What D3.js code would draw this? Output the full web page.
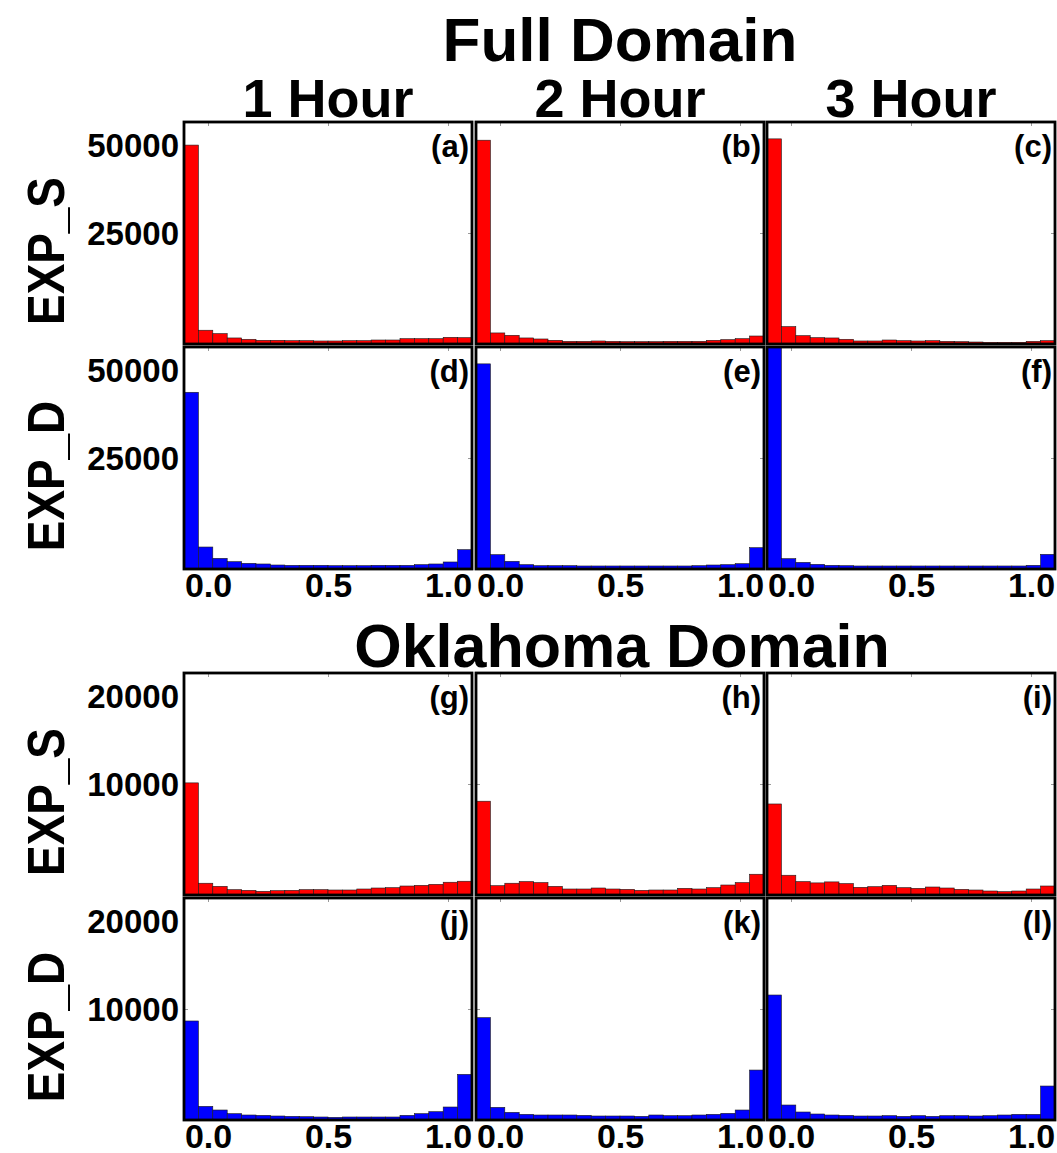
<!DOCTYPE html>
<html>
<head>
<meta charset="utf-8">
<script src="https://cdn.jsdelivr.net/npm/d3@7"></script>
<style>
  body { margin: 0; background: #fff; }
  svg text { font-family: "Liberation Sans", Arial, Helvetica, sans-serif; font-weight: bold; fill: #000; }
</style>
</head>
<body>
<svg id="chart" width="1057" height="1153"></svg>
<script>
// ---- labels ----
const hourLabels = ["1 Hour", "2 Hour", "3 Hour"];
const domainTitles = ["Full Domain", "Oklahoma Domain"];
const experimentLabels = ["EXP_S", "EXP_D", "EXP_S", "EXP_D"];
const panelLetters = [
  ["(a)", "(b)", "(c)"],
  ["(d)", "(e)", "(f)"],
  ["(g)", "(h)", "(i)"],
  ["(j)", "(k)", "(l)"]
];

// ---- histogram binning (20 equal bins) ----
const binEdgeStart = -0.1;
const binEdgeEnd = 1.1;
const xTickValues = [0.0, 0.5, 1.0];

// ---- y axes ----
const fullYMax = 50000;
const fullYTicks = [25000, 50000];
const okYMax = 20000;
const okYTicks = [10000, 20000];

// ---- counts per bin: Full Domain ----
const countsA = [44800, 3100, 2340, 1360, 1060, 830, 830, 750, 750, 680, 680, 750, 750, 900, 900, 1200, 1200, 1200, 1500, 1430];
const countsB = [45900, 2490, 1960, 1360, 1130, 830, 600, 600, 680, 600, 530, 530, 530, 600, 600, 600, 830, 980, 1200, 1800];
const countsC = [46200, 3920, 1880, 1430, 1360, 1060, 680, 680, 900, 750, 680, 750, 600, 530, 450, 380, 380, 380, 600, 750];
const countsD = [39800, 4950, 2400, 1650, 1280, 1130, 900, 830, 830, 830, 750, 750, 750, 830, 830, 830, 980, 1130, 1580, 4350];
const countsE = [46200, 3230, 1730, 980, 750, 750, 750, 680, 680, 680, 680, 680, 680, 680, 680, 750, 900, 980, 1200, 4800];
const countsF = [52000, 2330, 1500, 1050, 830, 750, 680, 680, 680, 680, 680, 680, 680, 680, 680, 680, 680, 680, 830, 3300];

// ---- counts per bin: Oklahoma Domain ----
const countsG = [10100, 1060, 780, 480, 420, 330, 390, 420, 480, 480, 450, 450, 540, 630, 660, 810, 870, 960, 1150, 1240];
const countsH = [8450, 840, 1060, 1210, 1120, 780, 540, 540, 630, 540, 510, 420, 450, 450, 600, 540, 660, 900, 1120, 1870];
const countsI = [8200, 1780, 1210, 1090, 1180, 1030, 690, 750, 870, 660, 600, 720, 630, 510, 450, 360, 300, 360, 540, 810];
const countsJ = [8920, 1230, 900, 570, 450, 420, 360, 330, 300, 270, 240, 270, 270, 270, 270, 420, 570, 750, 1170, 4110];
const countsK = [9220, 1140, 690, 510, 450, 450, 450, 420, 360, 360, 360, 330, 450, 390, 390, 450, 510, 600, 900, 4500];
const countsL = [11260, 1350, 720, 540, 450, 420, 360, 360, 390, 330, 390, 330, 390, 390, 360, 390, 450, 510, 510, 3060];

// ---- layout ----
const colLeft = [184, 476, 767];
const rowTop = [122, 347, 673, 898];
const panelW = 288;
const panelH = 222;

const svg = d3.select("#chart");

const rows = [
  { counts: [countsA, countsB, countsC], color: "#ff0000", yMax: fullYMax, yTicks: fullYTicks, xLabels: false },
  { counts: [countsD, countsE, countsF], color: "#0000ff", yMax: fullYMax, yTicks: fullYTicks, xLabels: true },
  { counts: [countsG, countsH, countsI], color: "#ff0000", yMax: okYMax, yTicks: okYTicks, xLabels: false },
  { counts: [countsJ, countsK, countsL], color: "#0000ff", yMax: okYMax, yTicks: okYTicks, xLabels: true }
];

const x = d3.scaleLinear().domain([binEdgeStart, binEdgeEnd]).range([0, panelW]);

const defs = svg.append("defs");
defs.append("clipPath").attr("id", "panel-clip")
  .append("rect").attr("x", 0).attr("y", 0).attr("width", panelW).attr("height", panelH);

rows.forEach((row, r) => {
  const y = d3.scaleLinear().domain([0, row.yMax]).range([panelH, 0]);

  row.counts.forEach((counts, c) => {
    const g = svg.append("g").attr("transform", `translate(${colLeft[c]},${rowTop[r]})`);
    const nBins = counts.length;
    const binW = (binEdgeEnd - binEdgeStart) / nBins;

    // faint inward tick marks on the frame
    const tickCol = "#9a9a9a";
    g.append("g")
      .call(d3.axisTop(x).tickValues(xTickValues).tickSize(-4).tickFormat(""))
      .call(s => s.select(".domain").remove())
      .selectAll("line").attr("stroke", tickCol);
    g.append("g").attr("transform", `translate(${panelW},0)`)
      .call(d3.axisRight(y).tickValues(row.yTicks).tickSize(-4).tickFormat(""))
      .call(s => s.select(".domain").remove())
      .selectAll("line").attr("stroke", tickCol);
    g.append("g")
      .call(d3.axisLeft(y).tickValues(row.yTicks).tickSize(-4).tickFormat(""))
      .call(s => s.select(".domain").remove())
      .selectAll("line").attr("stroke", tickCol);

    // histogram bars
    g.append("g").attr("clip-path", "url(#panel-clip)")
      .selectAll("rect").data(counts).join("rect")
      .attr("x", (d, i) => x(binEdgeStart + i * binW))
      .attr("width", (d, i) => x(binEdgeStart + (i + 1) * binW) - x(binEdgeStart + i * binW))
      .attr("y", d => y(d))
      .attr("height", d => panelH - y(d))
      .attr("fill", row.color)
      .attr("stroke", "#1a1a1a")
      .attr("stroke-width", 0.6);

    // panel frame
    g.append("rect")
      .attr("x", 0).attr("y", 0).attr("width", panelW).attr("height", panelH)
      .attr("fill", "none").attr("stroke", "#000").attr("stroke-width", 2.8);

    // panel letter
    g.append("text")
      .attr("x", panelW - 3).attr("y", 35)
      .attr("text-anchor", "end")
      .style("font-size", "31px")
      .text(panelLetters[r][c]);

    // y tick labels (first column only)
    if (c === 0) {
      const ya = g.append("g")
        .call(d3.axisLeft(y).tickValues(row.yTicks).tickSize(0).tickPadding(5).tickFormat(d3.format("d")));
      ya.select(".domain").remove();
      ya.selectAll("text")
        .attr("font-family", null).attr("font-size", null)
        .style("font-size", "33px")
        .attr("dy", "0.36em");
      // top label sits a little below the frame edge
      ya.selectAll(".tick").filter(d => d === row.yMax)
        .select("text").attr("dy", "1.05em");
    }

    // x tick labels (bottom of each domain block)
    if (row.xLabels) {
      const xa = g.append("g").attr("transform", `translate(0,${panelH})`)
        .call(d3.axisBottom(x).tickValues(xTickValues).tickSize(0).tickPadding(4).tickFormat(d3.format(".1f")));
      xa.select(".domain").remove();
      xa.selectAll("text")
        .attr("font-family", null).attr("font-size", null)
        .style("font-size", "34px");
    }
  });

  // row label
  const cy = rowTop[r] + panelH / 2 + 18;
  svg.append("text")
    .attr("transform", `translate(64,${cy}) rotate(-90) scale(0.9,1)`)
    .attr("text-anchor", "middle")
    .style("font-size", "51px")
    .text(experimentLabels[r]);
});

// column titles
hourLabels.forEach((h, c) => {
  svg.append("text")
    .attr("x", colLeft[c] + panelW / 2).attr("y", 117)
    .attr("text-anchor", "middle")
    .style("font-size", "54px")
    .text(h);
});

// domain titles
svg.append("text")
  .attr("x", 620).attr("y", 61)
  .attr("text-anchor", "middle")
  .style("font-size", "62px")
  .text(domainTitles[0]);
svg.append("text")
  .attr("x", 622).attr("y", 667)
  .attr("text-anchor", "middle")
  .style("font-size", "61px")
  .text(domainTitles[1]);
</script>
</body>
</html>
